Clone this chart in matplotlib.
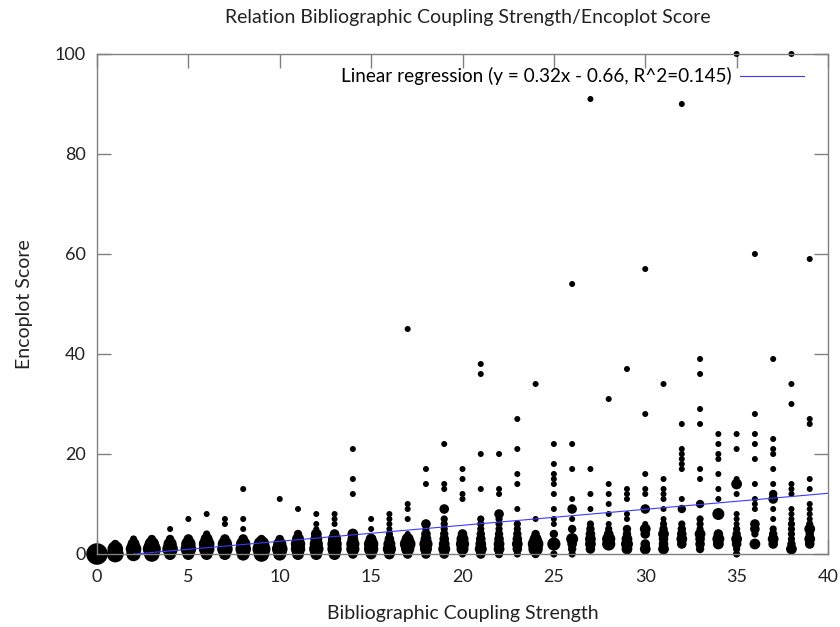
import matplotlib
matplotlib.use("Agg")
import matplotlib.pyplot as plt

plt.rcParams['font.family'] = ['Lato', 'DejaVu Sans']

# per coupling strength: encoplot scores and relative dot size (1 = single pair)
scores = [
    [0],
    [0, 1, 2],
    [0, 1, 2, 3],
    [0, 1, 2, 3],
    [0, 1, 2, 3, 5],
    [0, 1, 2, 3, 7],
    [0, 1, 2, 3, 4, 8],
    [0, 1, 2, 3, 6, 7],
    [0, 1, 2, 3, 5, 7, 13],
    [0, 1, 2, 3],
    [0, 1, 2, 3, 11],
    [0, 1, 2, 3, 4, 9],
    [0, 1, 2, 3, 4, 5, 6, 8],
    [0, 1, 2, 3, 4, 6, 7, 8],
    [0, 1, 2, 3, 4, 12, 15, 21],
    [0, 1, 2, 3, 5, 7],
    [0, 1, 2, 3, 4, 5, 6, 7, 8],
    [0, 1, 2, 3, 4, 7, 9, 10, 45],
    [0, 1, 2, 3, 4, 5, 6, 14, 17],
    [0, 1, 2, 3, 4, 5, 6, 7, 9, 13, 14, 22],
    [0, 1, 2, 3, 4, 11, 12, 15, 17],
    [0, 1, 2, 3, 4, 5, 6, 7, 13, 20, 36, 38],
    [0, 1, 2, 3, 4, 5, 6, 7, 8, 12, 13, 20],
    [0, 1, 2, 3, 4, 5, 6, 9, 14, 16, 21, 27],
    [0, 1, 2, 3, 4, 7, 34],
    [0, 2, 4, 6, 7, 9, 12, 14, 15, 16, 18, 22],
    [0, 1, 2, 3, 5, 7, 9, 11, 17, 22, 54],
    [1, 2, 3, 4, 5, 6, 9, 12, 17, 91],
    [2, 3, 4, 5, 6, 8, 10, 12, 14, 31],
    [1, 2, 3, 4, 5, 7, 8, 11, 12, 13, 37],
    [1, 2, 4, 5, 6, 9, 12, 13, 16, 28, 57],
    [1, 2, 3, 4, 5, 6, 7, 9, 11, 12, 13, 15, 34],
    [2, 3, 4, 5, 6, 9, 11, 17, 18, 19, 20, 21, 26, 90],
    [1, 2, 3, 4, 5, 6, 7, 10, 15, 17, 26, 29, 36, 39],
    [2, 3, 4, 8, 11, 13, 16, 19, 20, 22, 24],
    [0, 1, 2, 3, 4, 5, 6, 7, 8, 12, 14, 15, 21, 24, 100],
    [2, 4, 5, 6, 9, 10, 11, 14, 19, 22, 24, 28, 60],
    [2, 3, 4, 5, 7, 9, 11, 12, 14, 17, 20, 21, 23, 39],
    [1, 2, 3, 4, 5, 6, 7, 8, 9, 12, 13, 14, 30, 34, 100],
    [2, 3, 4, 5, 6, 7, 8, 9, 10, 13, 15, 26, 27, 59],
]
weights = [
    [3.6],
    [2.8, 2.6, 1.4],
    [2.4, 2.6, 2.0, 1.2],
    [2.6, 3.0, 2.4, 1.4],
    [2.0, 2.6, 2.2, 1.4, 1],
    [2.0, 2.6, 2.4, 1.6, 1],
    [2.0, 2.6, 2.6, 2.0, 1.2, 1],
    [2.0, 2.6, 2.4, 1.6, 1, 1],
    [2.2, 2.6, 2.4, 1.6, 1, 1, 1],
    [2.6, 3.0, 2.6, 1.4],
    [2.2, 2.6, 2.2, 1.4, 1],
    [2.0, 2.4, 2.4, 2.0, 1.4, 1],
    [2.0, 2.4, 2.2, 2.0, 1.8, 1, 1, 1],
    [2.0, 2.4, 2.4, 2.2, 1.6, 1, 1, 1],
    [1.6, 2.2, 2.2, 1.8, 1.8, 1, 1, 1],
    [1.8, 2.4, 2.4, 1.8, 1, 1],
    [1.8, 2.2, 2.0, 1.6, 1.2, 1, 1, 1, 1],
    [1.6, 2.2, 2.6, 2.0, 1, 1, 1, 1, 1],
    [1.6, 2.0, 2.2, 1.8, 1.6, 1.2, 1.6, 1, 1],
    [1.6, 2.0, 1.8, 1.6, 1.4, 1.2, 1.2, 1.2, 1.6, 1, 1, 1],
    [1.2, 2.0, 2.2, 2.0, 1.6, 1, 1, 1, 1],
    [1.6, 2.0, 1.8, 1.6, 1.4, 1.2, 1.2, 1.2, 1, 1, 1, 1],
    [1.4, 1.8, 1.8, 1.6, 1.4, 1.2, 1.2, 1.2, 1.6, 1, 1, 1],
    [1.2, 1.6, 1.8, 1.6, 1.4, 1.2, 1.2, 1, 1, 1, 1, 1],
    [1.4, 2.4, 2.6, 2.0, 1.4, 1, 1],
    [1.2, 2.2, 1.4, 1, 1, 1, 1, 1, 1, 1, 1, 1],
    [1.2, 1.4, 1.6, 2.0, 1.4, 1, 1.6, 1, 1, 1, 1],
    [1.6, 1.8, 1.8, 1.6, 1.4, 1.2, 1, 1, 1, 1],
    [2.2, 2.2, 1.6, 1.2, 1, 1, 1, 1, 1, 1],
    [1.8, 2.0, 1.8, 1.4, 1.4, 1, 1, 1, 1, 1, 1],
    [1.8, 1.6, 1.6, 1.8, 1, 1.6, 1, 1, 1, 1, 1],
    [1.8, 1.6, 1.6, 1.8, 1.4, 1.2, 1, 1, 1, 1, 1, 1, 1],
    [1.6, 1.8, 1.6, 1.4, 1.2, 1.4, 1, 1, 1, 1, 1, 1, 1, 1],
    [1.4, 1.6, 1.6, 1.8, 1.2, 1.2, 1.2, 1.4, 1, 1, 1, 1, 1, 1],
    [1.8, 2.0, 1.6, 2.0, 1, 1, 1, 1, 1, 1, 1],
    [1.2, 1.2, 1.6, 1.8, 1.4, 1.2, 1, 1, 1, 1, 1.8, 1, 1, 1, 1],
    [1.8, 1.2, 1.6, 1.6, 1, 1, 1, 1, 1, 1, 1, 1, 1],
    [1.6, 1.8, 1.4, 1.2, 1, 1, 1.6, 1.4, 1, 1, 1, 1, 1, 1],
    [1.8, 1.4, 1.2, 1.2, 1.2, 1.2, 1, 1, 1, 1, 1, 1, 1, 1, 1],
    [1.6, 1.8, 1.4, 1.8, 1.2, 1, 1, 1, 1, 1, 1, 1, 1, 1],
]

slope = 0.32
intercept = -0.66
fit_range = [2, 40]
fit_label = "Linear regression (y = 0.32x - 0.66, R^2=0.145)"

xs, ys, sizes = [], [], []
for strength, (col, wcol) in enumerate(zip(scores, weights)):
    for s, w in zip(col, wcol):
        xs.append(strength)
        ys.append(s)
        sizes.append((w * 6.0 * 0.72) ** 2)

fig = plt.figure(figsize=(8.4, 6.27), dpi=100)
ax = fig.add_axes([97 / 840, 1 - 554 / 627, 731 / 840, 500 / 627])

ax.scatter(xs, ys, s=sizes, c='black', linewidths=0, clip_on=False, zorder=2)
fit_y = [slope * x + intercept for x in fit_range]
ax.plot(fit_range, fit_y, color='#3a3aff', lw=0.8, label=fit_label, zorder=3)

ax.set_xlim(0, 40)
ax.set_ylim(0, 100)
ax.set_xticks(range(0, 41, 5))
ax.set_yticks(range(0, 101, 20))
ax.tick_params(direction='in', length=10, width=1, color='#808080',
               top=True, right=True, labelsize=13, labelcolor='#222222')
ax.tick_params(axis='x', pad=11)
ax.tick_params(axis='y', pad=8)
for sp in ax.spines.values():
    sp.set_color('#808080')
    sp.set_linewidth(1)

ax.set_xlabel("Bibliographic Coupling Strength", fontsize=14, labelpad=14, color='#222222')
ax.set_ylabel("Encoplot Score", fontsize=14, labelpad=16, color='#222222')
fig.text(468 / 840, 1 - 18 / 627, "Relation Bibliographic Coupling Strength/Encoplot Score",
         ha='center', va='center', fontsize=14, color='#222222')

leg = ax.legend(loc='upper right', frameon=False, markerfirst=False, fontsize=13.6,
                handlelength=3.4, handletextpad=0.4, borderaxespad=0.3,
                bbox_to_anchor=(0.985, 1.0))

fig.savefig("out.png", dpi=100)
